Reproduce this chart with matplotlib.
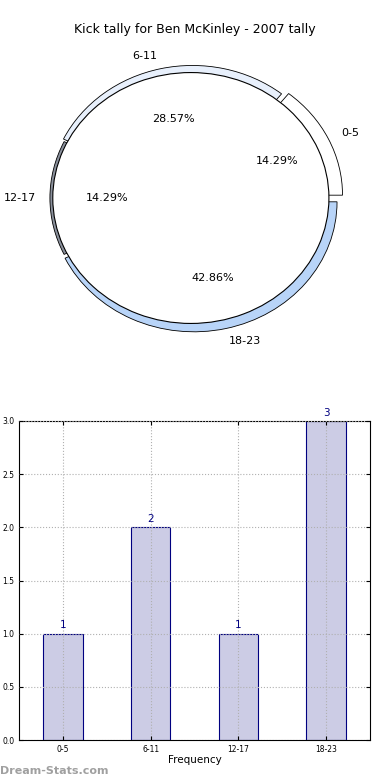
import numpy as np
import matplotlib
matplotlib.use('Agg')
import matplotlib.pyplot as plt

categories = ['0-5', '6-11', '12-17', '18-23']
counts = [1, 2, 1, 3]
pie_colors = ['#ffffff', '#e8f0fc', '#8a909c', '#b8d4f8']
explode = [0.05, 0.02, 0.0, 0.03]

fig = plt.figure(figsize=(3.9, 7.8), dpi=100)

# pie (elliptical, like the original)
ax1 = fig.add_axes([7 / 390, 1 - 367 / 780, 372 / 390, 338 / 780])
ax1.pie(counts, labels=categories, colors=pie_colors, explode=explode,
        autopct='%1.2f%%', startangle=0, counterclock=True,
        labeldistance=1.1, pctdistance=0.6,
        wedgeprops=dict(edgecolor='black', linewidth=0.6),
        textprops=dict(fontsize=8))
# white cover left over in the middle of the pie
ax1.pie([sum(counts)], colors=['white'], radius=0.965, center=(-0.015, 0),
        wedgeprops=dict(edgecolor='black', linewidth=0.8))
ax1.set_aspect('auto')
ax1.set_xlim(-1.3, 1.3)
ax1.set_ylim(-1.3, 1.3)
ax1.axis('off')
fig.text(0.5, 1 - 30 / 780, 'Kick tally for Ben McKinley - 2007 tally',
         ha='center', va='center', fontsize=9)

# bar chart
ax2 = fig.add_axes([19 / 390, 1 - 740 / 780, 351 / 390, 319 / 780])
x = np.arange(len(categories))
bars = ax2.bar(x, counts, width=0.45, color='#ccccE5', edgecolor='navy',
               linewidth=0.8, zorder=1)
for xi, c in zip(x, counts):
    ax2.text(xi, c + 0.03, str(c), ha='center', va='bottom',
             color='navy', fontsize=7.5, zorder=3)
ax2.set_xlim(-0.5, 3.5)
ax2.set_ylim(0, 3.0)
ax2.set_xticks(x)
ax2.set_xticklabels(categories)
ax2.set_yticks(np.arange(0, 3.01, 0.5))
ax2.tick_params(labelsize=5.5, direction='in', length=3, top=True, right=True)
ax2.grid(True, linestyle=':', color='#b0b0b0', linewidth=0.8, zorder=2)
ax2.set_axisbelow(False)
ax2.set_xlabel('Frequency', fontsize=7.5, labelpad=1)
for s in ax2.spines.values():
    s.set_linewidth(0.8)

fig.text(0.0, 1 - 771 / 780, 'Dream-Stats.com', ha='left', va='center',
         fontsize=8, color='#a0a0a0', fontweight='bold')

fig.savefig('out.png', dpi=100)
